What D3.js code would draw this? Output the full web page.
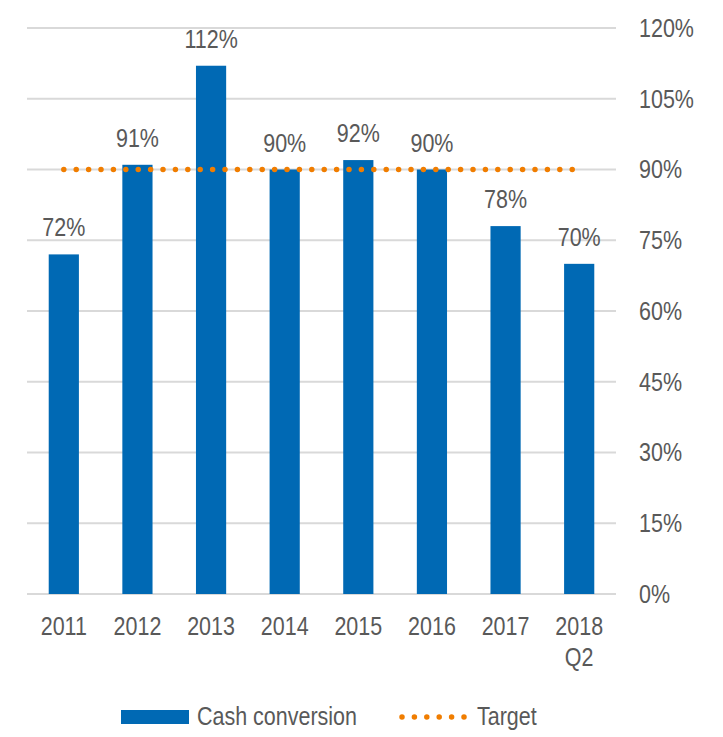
<!DOCTYPE html>
<meta charset="utf-8">
<head>
  <script src="https://d3js.org/d3.v7.min.js"></script>
  <style>
    body { margin: 0; background: #fff; }
    text { font-family: "Liberation Sans", Arial, sans-serif; fill: #595959; font-size: 25px; }
  </style>
</head>
<body>
<svg id="chart" width="723" height="737"></svg>
<script>
var categories = ["2011", "2012", "2013", "2014", "2015", "2016", "2017", "2018\nQ2"];
var cashConversion = [72, 91, 112, 90, 92, 90, 78, 70];
var target = [90, 90, 90, 90, 90, 90, 90, 90];
var yTicks = [0, 15, 30, 45, 60, 75, 90, 105, 120];

var svg = d3.select("#chart");
var plotLeft = 27, plotRight = 616, plotTop = 28, plotBottom = 594;
var blue = "#0069b4", orange = "#f07d00";
var squeeze = 0.86; // the original font is a narrow face

function place(px, py) { return "translate(" + px + "," + py + ") scale(" + squeeze + ",1)"; }

var x = d3.scaleBand()
    .domain(categories)
    .range([plotLeft, plotRight])
    .paddingInner(0.59)
    .paddingOuter(0.295);

var y = d3.scaleLinear()
    .domain([0, 120])
    .range([plotBottom, plotTop]);

function cx(i) { return x(categories[i]) + x.bandwidth() / 2; }

// gridlines
svg.append("g")
  .selectAll("line")
  .data(yTicks)
  .enter().append("line")
    .attr("x1", plotLeft)
    .attr("x2", plotRight)
    .attr("y1", function(d) { return y(d); })
    .attr("y2", function(d) { return y(d); })
    .attr("stroke", "#d9d9d9")
    .attr("stroke-width", 2);

// right axis labels
svg.append("g")
  .selectAll("text")
  .data(yTicks)
  .enter().append("text")
    .attr("transform", function(d) { return place(639, y(d)); })
    .attr("dy", "0.35em")
    .text(function(d) { return d + "%"; });

// bars
svg.append("g")
  .selectAll("rect")
  .data(cashConversion)
  .enter().append("rect")
    .attr("x", function(d, i) { return x(categories[i]); })
    .attr("y", function(d) { return y(d); })
    .attr("width", x.bandwidth())
    .attr("height", function(d) { return y(0) - y(d); })
    .attr("fill", blue);

// value labels
svg.append("g")
  .selectAll("text")
  .data(cashConversion)
  .enter().append("text")
    .attr("transform", function(d, i) { return place(cx(i), y(d) - 18); })
    .attr("text-anchor", "middle")
    .text(function(d) { return d + "%"; });

// target line
var line = d3.line()
    .x(function(d, i) { return cx(i); })
    .y(function(d) { return y(d); });

svg.append("path")
  .datum(target)
  .attr("d", line)
  .attr("fill", "none")
  .attr("stroke", orange)
  .attr("stroke-width", 5.5)
  .attr("stroke-linecap", "round")
  .attr("stroke-dasharray", "0 12.4");

// x labels
var xl = svg.append("g")
  .selectAll("text")
  .data(categories)
  .enter().append("text")
    .attr("text-anchor", "middle")
    .attr("transform", function(d, i) { return place(cx(i), 635); });

xl.selectAll("tspan")
  .data(function(d) { return d.split("\n"); })
  .enter().append("tspan")
    .attr("x", 0)
    .attr("dy", function(d, i) { return i ? 31 : 0; })
    .text(function(d) { return d; });

// legend
var legend = svg.append("g");
legend.append("rect")
  .attr("x", 121).attr("y", 710)
  .attr("width", 68).attr("height", 14)
  .attr("fill", blue);
legend.append("text")
  .attr("transform", place(197, 725))
  .text("Cash conversion");
legend.append("line")
  .attr("x1", 402).attr("x2", 465)
  .attr("y1", 717).attr("y2", 717)
  .attr("stroke", orange)
  .attr("stroke-width", 5.5)
  .attr("stroke-linecap", "round")
  .attr("stroke-dasharray", "0 12.4");
legend.append("text")
  .attr("transform", place(477, 725))
  .text("Target");
</script>
</body>
